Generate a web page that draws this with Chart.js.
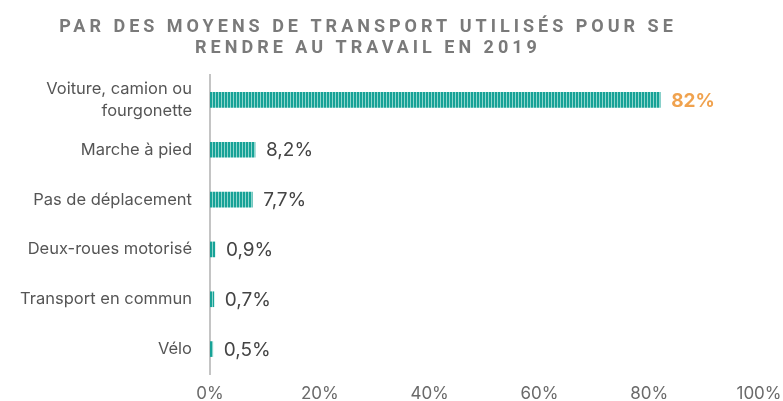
<!DOCTYPE html>
<html><head><meta charset="utf-8">
<script src="https://cdn.jsdelivr.net/npm/chart.js@4/dist/chart.umd.min.js"></script>
<style>html,body{margin:0;padding:0;background:#fff;overflow:hidden}canvas{display:block}</style>
</head><body><canvas id="c" width="783" height="401"></canvas>
<script>
const titleLines = ["PAR DES MOYENS DE TRANSPORT UTILISÉS POUR SE", "RENDRE AU TRAVAIL EN 2019"];
const categories = [["Voiture, camion ou", "fourgonette"], "Marche à pied", "Pas de déplacement", "Deux-roues motorisé", "Transport en commun", "Vélo"];
const values = [82, 8.2, 7.7, 0.9, 0.7, 0.5];
const valueLabels = ["82%", "8,2%", "7,7%", "0,9%", "0,7%", "0,5%"];
const xTicks = [0, 20, 40, 60, 80, 100];

function makePattern() {
  const p = document.createElement('canvas');
  p.width = 3; p.height = 4;
  const g = p.getContext('2d');
  g.fillStyle = '#17a297'; g.fillRect(0,0,3,4);
  g.fillStyle = '#8fd6cd'; g.fillRect(2,0,1,4);
  return document.getElementById('c').getContext('2d').createPattern(p, 'repeat');
}
const pattern = makePattern();

const titlePlugin = {
  id: 'customTitle',
  afterDraw(chart) {
    const ctx = chart.ctx;
    ctx.save();
    ctx.font = 'bold 18px Roboto';
    ctx.fillStyle = '#7a7a7a';
    ctx.textAlign = 'center';
    ctx.textBaseline = 'middle';
    if ('letterSpacing' in ctx) ctx.letterSpacing = '4px';
    ctx.fillText(titleLines[0], 368, 27);
    ctx.fillText(titleLines[1], 368, 48);
    ctx.restore();
  }
};
const labelPlugin = {
  id: 'valLabels',
  afterDatasetsDraw(chart) {
    const ctx = chart.ctx;
    const meta = chart.getDatasetMeta(0);
    ctx.save();
    ctx.textBaseline = 'middle';
    ctx.textAlign = 'left';
    meta.data.forEach((bar, i) => {
      if (i === 0) { ctx.font = 'bold 19px Inter'; ctx.fillStyle = '#f0a24e'; }
      else { ctx.font = '19px Inter'; ctx.fillStyle = '#444'; }
      ctx.fillText(valueLabels[i], bar.x + 11, bar.y + 1);
    });
    ctx.restore();
  }
};

new Chart(document.getElementById('c'), {
  type: 'bar',
  data: { labels: categories, datasets: [{ data: values, backgroundColor: pattern, barThickness: 15, borderWidth: 0 }] },
  options: {
    indexAxis: 'y', responsive: false, animation: false,
    layout: { padding: { top: 75, right: 24, left: 0, bottom: 0 } },
    plugins: { legend: { display: false }, tooltip: { enabled: false } },
    scales: {
      x: {
        min: 0, max: 100,
        afterBuildTicks(s) { s.ticks = xTicks.map(v => ({ value: v })); },
        afterFit(s) { s.height = 27; s.paddingRight = 0; s.paddingLeft = 0; },
        grid: { display: false, drawTicks: false },
        border: { display: false },
        ticks: { padding: 10, color: '#6a6a6a', font: { family: 'Inter', size: 17 }, callback: v => v + '%' }
      },
      y: {
        afterFit(s) { s.width = 210; s.paddingTop = 0; s.paddingBottom = 0; },
        grid: { display: false, drawTicks: false },
        border: { display: true, color: '#c4c4c4', width: 2 },
        ticks: { padding: 18, color: '#555', font: { family: 'Inter', size: 16.5, lineHeight: 1.3 } }
      }
    }
  },
  plugins: [titlePlugin, labelPlugin]
});
</script></body></html>
